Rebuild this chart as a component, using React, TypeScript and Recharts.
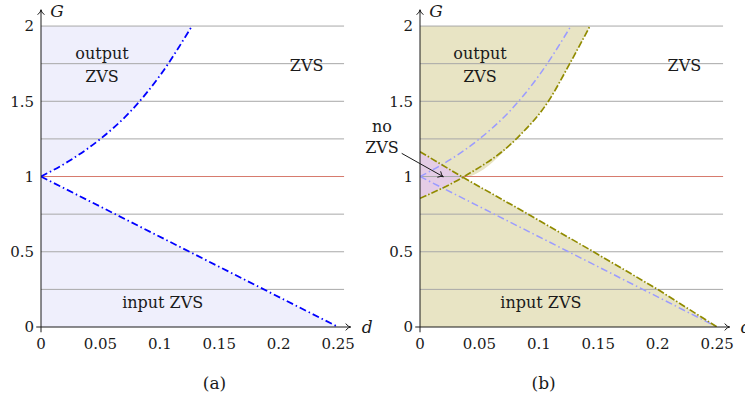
import React from 'react';
import { ComposedChart, Area, Line, XAxis, YAxis, ReferenceLine, ReferenceDot } from 'recharts';

const FONT = 'DejaVu Serif';
const INK = '#1a1a1a';

// axes
const xTicks = [0, 0.05, 0.1, 0.15, 0.2, 0.25];
const yTicks = [0, 0.5, 1, 1.5, 2];
const gridLevels = [0.25, 0.5, 0.75, 1, 1.25, 1.5, 1.75, 2];

// (a) boundaries
const outA_d = [0, 0.025, 0.05, 0.075, 0.1, 0.127];
const outA_G = [1, 1.11, 1.25, 1.43, 1.67, 2];
const inA_d = [0, 0.25];
const inA_G = [1, 0];

// (b) boundaries (index 1 is where the two olive curves cross)
const outB_d = [0, 0.036, 0.081, 0.108, 0.126, 0.143];
const outB_G = [0.855, 0.995, 1.25, 1.5, 1.75, 2];
const inB_d = [0, 0.036, 0.091, 0.146, 0.2, 0.25];
const inB_G = [1.165, 0.995, 0.75, 0.5, 0.25, 0];

const pts = (ds: number[], gs: number[]) => ds.map((x, i) => ({ x, y: gs[i] }));
const above = (ds: number[], gs: number[], top = 2) => ds.map((x, i) => ({ x, r: [gs[i], top] }));
const below = (ds: number[], gs: number[]) => ds.map((x, i) => ({ x, r: [0, gs[i]] }));

// (a) fills
const fillsA = [
  { data: above(outA_d, outA_G), color: '#efeffc', type: 'monotone' },
  { data: below(inA_d, inA_G), color: '#efeffc', type: 'linear' },
];
// (b) fills
const fillsB = [
  { data: above([inB_d[0], ...outB_d.slice(1)], [inB_G[0], ...outB_G.slice(1)]), color: '#e8e4c4', type: 'monotone' },
  { data: below([outB_d[0], ...inB_d.slice(1)], [outB_G[0], ...inB_G.slice(1)]), color: '#e8e4c4', type: 'linear' },
  { data: [{ x: 0, r: [outB_G[0], inB_G[0]] }, { x: outB_d[1], r: [outB_G[1], inB_G[1]] }], color: '#e5cde6', type: 'linear' },
];

const BLUE = '#0000ff';
const LBLUE = '#9b9bff';
const OLIVE = '#918b00';

const linesA = [
  { data: pts(outA_d, outA_G), color: BLUE, dash: '7 3 1.5 3', w: 1.8, type: 'monotone' },
  { data: pts(inA_d, inA_G), color: BLUE, dash: '7 3 1.5 3', w: 1.8, type: 'linear' },
];
const linesB = [
  { data: pts(outA_d, outA_G), color: LBLUE, dash: '7 3 1.5 3', w: 1.5, type: 'monotone' },
  { data: pts(inA_d, inA_G), color: LBLUE, dash: '7 3 1.5 3', w: 1.5, type: 'linear' },
  { data: pts(outB_d, outB_G), color: OLIVE, dash: '7 2 1.5 2', w: 1.7, type: 'monotone' },
  { data: pts(inB_d, inB_G), color: OLIVE, dash: '7 2 1.5 2', w: 1.7, type: 'linear' },
];

const labelsA = [
  { text: 'output', x: 0.0513, y: 1.781 },
  { text: 'ZVS', x: 0.0513, y: 1.63 },
  { text: 'ZVS', x: 0.2235, y: 1.703 },
  { text: 'input ZVS', x: 0.1024, y: 0.128 },
  { text: 'G', x: 0.0135, y: 2.06, italic: true },
  { text: 'd', x: 0.2744, y: -0.04, italic: true },
  { text: '(a)', x: 0.146, y: -0.41, size: 17 },
];
const labelsB = [
  { text: 'output', x: 0.0505, y: 1.781 },
  { text: 'ZVS', x: 0.0505, y: 1.63 },
  { text: 'ZVS', x: 0.2225, y: 1.703 },
  { text: 'no', x: -0.032, y: 1.298 },
  { text: 'ZVS', x: -0.032, y: 1.154 },
  { text: 'input ZVS', x: 0.1017, y: 0.128 },
  { text: 'G', x: 0.0135, y: 2.06, italic: true },
  { text: 'd', x: 0.2744, y: -0.04, italic: true },
  { text: '(b)', x: 0.104, y: -0.41, size: 17 },
];

const arrowShape = (p: any) => {
  const { x1, y1, x2, y2 } = p;
  const ang = Math.atan2(y2 - y1, x2 - x1);
  const L = 6;
  const s = 0.6;
  const ax = x2 - L * Math.cos(ang - s);
  const ay = y2 - L * Math.sin(ang - s);
  const bx = x2 - L * Math.cos(ang + s);
  const by = y2 - L * Math.sin(ang + s);
  const qx = x2 - 2 * Math.cos(ang);
  const qy = y2 - 2 * Math.sin(ang);
  return (
    <g>
      <line x1={x1} y1={y1} x2={x2} y2={y2} stroke={INK} strokeWidth={1} />
      <path d={`M${ax},${ay} Q${qx},${qy} ${x2},${y2} Q${qx},${qy} ${bx},${by}`} fill="none" stroke={INK} strokeWidth={1} />
    </g>
  );
};

const textLabel = (text: string, italic?: boolean, size?: number) => (props: any) => {
  const vb = props.viewBox || {};
  const cx = vb.x + (vb.width || 0) / 2;
  const cy = vb.y + (vb.height || 0) / 2;
  return (
    <text x={cx} y={cy} textAnchor="middle" fill={INK}
      style={{ fontFamily: FONT, fontSize: size || (italic ? 17 : 16), fontStyle: italic ? 'italic' : 'normal' }}>
      {text}
    </text>
  );
};

const tickStyle = { fontSize: 15, fill: INK, fontFamily: FONT, style: { fontFamily: FONT, fontSize: 15 } };

function Panel({ fills, lines, labels, redFrom, yAxisWidth, width, marginRight, left, arrow }: any) {
  return (
    <div style={{ position: 'absolute', left, top: 0, fontFamily: FONT }}>
      <ComposedChart width={width} height={399} margin={{ top: 11, right: marginRight, left: 0, bottom: 42 }} style={{ overflow: 'visible' }}>
        <XAxis type="number" dataKey="x" domain={[0, 0.26]} ticks={xTicks} allowDataOverflow axisLine={false} tickLine={false}
          height={30} tickSize={6} tickMargin={5} tick={tickStyle} interval={0} />
        <YAxis type="number" domain={[0, 2.1]} ticks={yTicks} allowDataOverflow axisLine={false} tickLine={false}
          width={yAxisWidth} tickSize={6} tickMargin={1} tick={tickStyle} interval={0} />
        {fills.map((f: any, i: number) => (
          <Area key={'f' + i} data={f.data} dataKey="r" type={f.type} stroke="none" fill={f.color} fillOpacity={1}
            isAnimationActive={false} activeDot={false} dot={false} />
        ))}
        {gridLevels.map((g) => (
          <ReferenceLine key={'g' + g} segment={[{ x: 0, y: g }, { x: 0.255, y: g }]} stroke="#a8a8a8" strokeWidth={1} ifOverflow="visible" />
        ))}
        <ReferenceLine segment={[{ x: redFrom, y: 1 }, { x: 0.255, y: 1 }]} stroke="#d77b6e" strokeWidth={1.2} ifOverflow="visible" />
        {lines.map((l: any, i: number) => (
          <Line key={'l' + i} data={l.data} dataKey="y" type={l.type} stroke={l.color} strokeWidth={l.w} strokeDasharray={l.dash}
            dot={false} activeDot={false} isAnimationActive={false} />
        ))}
        <ReferenceLine segment={[{ x: -0.004, y: 0 }, { x: 0.2605, y: 0 }]} ifOverflow="visible" shape={arrowShape} />
        <ReferenceLine segment={[{ x: 0, y: -0.035 }, { x: 0, y: 2.108 }]} ifOverflow="visible" shape={arrowShape} />
        {arrow && (
          <ReferenceLine segment={arrow} ifOverflow="visible" shape={arrowShape} />
        )}
        {labels.map((l: any, i: number) => (
          <ReferenceDot key={'t' + i} x={l.x} y={l.y} r={0} fill="none" stroke="none" ifOverflow="visible"
            label={{ content: textLabel(l.text, l.italic, l.size) }} />
        ))}
      </ComposedChart>
    </div>
  );
}

export default function App() {
  return (
    <div style={{ position: 'absolute', left: 0, top: 0, width: 745, height: 399, background: '#fff', overflow: 'hidden' }}>
      <Panel fills={fillsA} lines={linesA} labels={labelsA} redFrom={0} yAxisWidth={41} width={380} marginRight={30} left={0} />
      <Panel fills={fillsB} lines={linesB} labels={labelsB} redFrom={outB_d[1]} yAxisWidth={65} width={390} marginRight={16} left={355}
        arrow={[{ x: -0.0154, y: 1.154 }, { x: 0.0196, y: 0.9987 }]} />
    </div>
  );
}
